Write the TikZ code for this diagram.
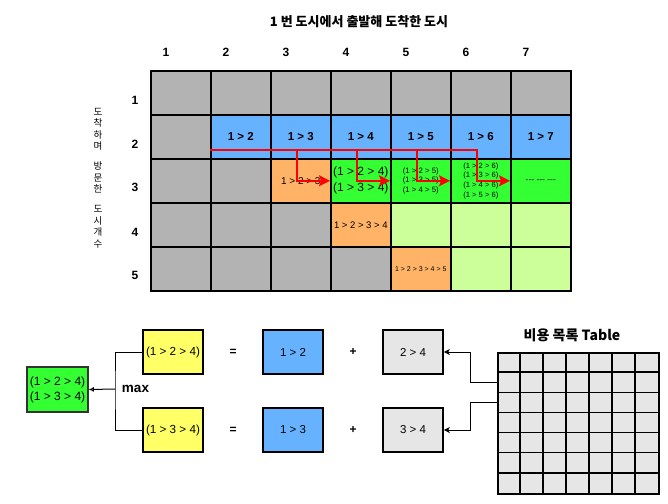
\documentclass[tikz,border=0pt]{standalone}
\usepackage{fontspec}
\setmainfont{Liberation Sans}
\newfontfamily\kr{Noto Sans CJK KR}
\usetikzlibrary{arrows.meta}
\definecolor{cgray}{HTML}{B3B3B3}
\definecolor{cblue}{HTML}{66B2FF}
\definecolor{corange}{HTML}{FFB366}
\definecolor{cgreen}{HTML}{33FF33}
\definecolor{clgreen}{HTML}{CCFF99}
\definecolor{cyellow}{HTML}{FFFF66}
\definecolor{clgray}{HTML}{E6E6E6}
\newcommand\fs[1]{\fontsize{#1}{#1}\selectfont}
\newcommand\cellat[5][]{\node[cell,fill=#4,#1] (c#2#3) at ({150+60*(#3-1)},{70+44*(#2-1)}) {#5};}
\begin{document}
\begin{tikzpicture}[x=1pt,y=-1pt,
  cell/.style={draw=black,line width=1.6pt,minimum width=60pt,minimum height=44pt,inner sep=0pt,anchor=north west,align=center,font=\fs{10}},
  bluecell/.style={font=\bfseries\fs{11.5}},
  lbl/.style={font=\bfseries\fs{12}},
  redline/.style={draw=red,line width=1.6pt},
  redarrow/.style={redline,-{Stealth[length=11pt,width=11pt,inset=2pt]}},
  box/.style={draw=black,line width=1.6pt,minimum width=60pt,minimum height=44pt,inner sep=1pt,align=center,font=\fs{11.5}},
  conn/.style={draw=black,line width=1pt},
  connarrow/.style={conn,-{Stealth[length=6pt,width=6pt,inset=1.5pt]}}
]
\useasboundingbox[fill=white] (0,0) rectangle (668,503);

% title and labels
\node[font=\kr\bfseries\fs{13}] (title) at (359,22) {1 번 도시에서 출발해 도착한 도시};
\foreach \k in {1,...,7} \node[lbl] (col\k) at ({166+60*(\k-1)},52) {\k};
\node[lbl] (row1) at (135,100) {1};
\node[lbl] (row2) at (135,144) {2};
\node[lbl] (row3) at (135,187) {3};
\node[lbl] (row4) at (135,232) {4};
\node[lbl] (row5) at (135,275) {5};
\node[font=\kr\fontsize{9.5}{11.5}\selectfont,align=center,inner sep=0pt] (vtext) at (98,178)
  {도\\착\\하\\며\\[8.5pt]방\\문\\한\\[8.5pt]도\\시\\개\\수};

% grid row 1
\foreach \c in {1,...,7} {\cellat{1}{\c}{cgray}{}}
% row 2
\cellat{2}{1}{cgray}{}
\cellat[bluecell]{2}{2}{cblue}{1 > 2}
\cellat[bluecell]{2}{3}{cblue}{1 > 3}
\cellat[bluecell]{2}{4}{cblue}{1 > 4}
\cellat[bluecell]{2}{5}{cblue}{1 > 5}
\cellat[bluecell]{2}{6}{cblue}{1 > 6}
\cellat[bluecell]{2}{7}{cblue}{1 > 7}
% row 3
\cellat{3}{1}{cgray}{}
\cellat{3}{2}{cgray}{}
\cellat[font=\fs{10}]{3}{3}{corange}{1 > 2 > 3}
\cellat[font=\fontsize{12}{16}\selectfont]{3}{4}{cgreen}{(1 > 2 > 4)\\(1 > 3 > 4)}
\cellat[font=\fontsize{7.8}{9.6}\selectfont]{3}{5}{cgreen}{(1 > 2 > 5)\\(1 > 3 > 5)\\(1 > 4 > 5)}
\cellat[font=\fontsize{7.6}{9.7}\selectfont]{3}{6}{cgreen}{(1 > 2 > 6)\\(1 > 3 > 6)\\(1 > 4 > 6)\\(1 > 5 > 6)}
\cellat[font=\fs{8.5}]{3}{7}{cgreen}{{-}{-}{-} {-}{-}{-} {-}{-}{-}}
% row 4
\cellat{4}{1}{cgray}{}
\cellat{4}{2}{cgray}{}
\cellat{4}{3}{cgray}{}
\cellat[font=\fs{9.5}]{4}{4}{corange}{1 > 2 > 3 > 4}
\cellat{4}{5}{clgreen}{}
\cellat{4}{6}{clgreen}{}
\cellat{4}{7}{clgreen}{}
% row 5
\cellat{5}{1}{cgray}{}
\cellat{5}{2}{cgray}{}
\cellat{5}{3}{cgray}{}
\cellat{5}{4}{cgray}{}
\cellat[font=\fs{7}]{5}{5}{corange}{1 > 2 > 3 > 4 > 5}
\cellat{5}{6}{clgreen}{}
\cellat{5}{7}{clgreen}{}

% red arrows
\coordinate (rs) at (210,150);
\coordinate (re) at (478,150);
\draw[redline] (rs) -- (re);
\coordinate (d3) at (297,150);
\coordinate (d4) at (357,150);
\coordinate (d5) at (417,150);
\coordinate (d6) at (477,150);
\draw[redarrow] (d3) |- (c34.west);
\draw[redarrow] (d4) |- (c35.west);
\draw[redarrow] (d5) |- (c36.west);
\draw[redarrow] (d6) |- (c37.west);

% bottom part
\node[box,fill=cgreen,minimum width=61pt,minimum height=45pt,draw=black!80,font=\fontsize{12}{15}\selectfont] (g) at (57.5,389.5) {(1 > 2 > 4)\\(1 > 3 > 4)};
\node[box,fill=cyellow,font=\fs{11.7}] (y1) at (173,352) {(1 > 2 > 4)};
\node[box,fill=cyellow,font=\fs{11.7}] (y2) at (173,430) {(1 > 3 > 4)};
\node[lbl] (eq1) at (233,352) {=};
\node[lbl] (eq2) at (233,430) {=};
\node[box,fill=cblue] (b1) at (293,352) {1 > 2};
\node[box,fill=cblue] (b2) at (293,430) {1 > 3};
\node[lbl] (pl1) at (353,352) {+};
\node[lbl] (pl2) at (353,430) {+};
\node[box,fill=clgray] (gr1) at (413,352) {2 > 4};
\node[box,fill=clgray] (gr2) at (413,430) {3 > 4};
\node[font=\bfseries\fs{13.5}] (max) at (135.5,389) {max};

\coordinate (j) at (115,389);
\draw[conn] (y1.west) -| (j) |- (y2.west);
\draw[conn,-{Latex[open,length=5pt,width=5pt]}] (j) -- (g.east);

% cost table
\node[font=\kr\bfseries\fs{14}] (ttitle) at (572,335) {비용 목록 Table};
\node[draw=black,line width=1.5pt,fill=clgray,minimum width=161pt,minimum height=141pt,anchor=north west,inner sep=0pt] (tbl) at (497,352) {};
\foreach \i in {1,...,6} {
  \draw[line width=1.5pt] ({497+23*\i},352) -- ({497+23*\i},493);
  \draw[line width=1.5pt] (497,{352+141/7*\i}) -- (658,{352+141/7*\i});
}
\coordinate (ta) at (497,382);
\coordinate (tb) at (497,402);
\draw[connarrow] (ta) -- ++(-27,0) |- (gr1.east);
\draw[connarrow] (tb) -- ++(-27,0) |- (gr2.east);
\end{tikzpicture}
\end{document}
